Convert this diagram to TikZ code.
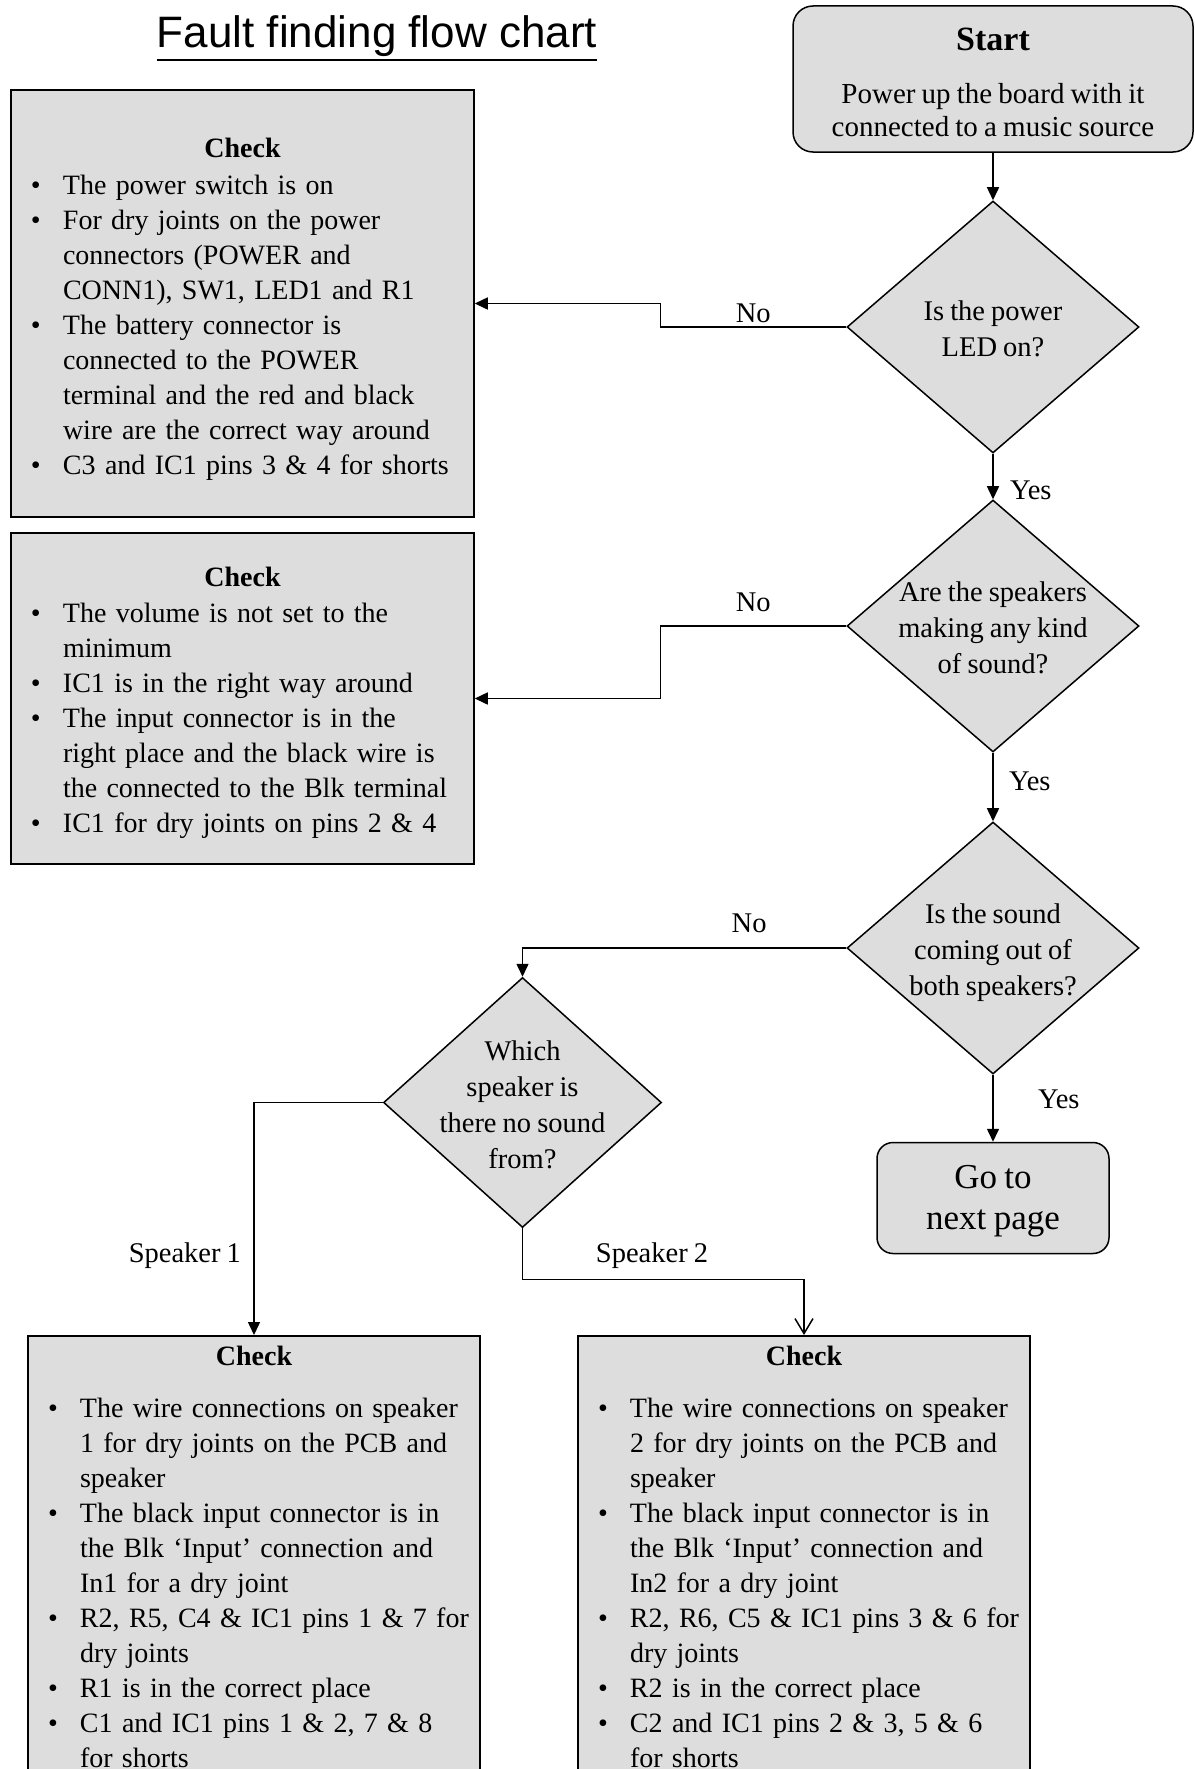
\documentclass[tikz,border=0pt]{standalone}
\usepackage{fontspec}
\setmainfont{Liberation Serif}[WordSpace=0.85]
\newfontfamily\titlefont{Liberation Sans}
\usetikzlibrary{shapes.geometric,arrows.meta,positioning}

\definecolor{boxgrey}{RGB}{221,221,221}
\newcommand{\bodyfont}{\fontsize{28}{35}\selectfont}
\newcommand{\qfont}{\fontsize{28.5}{36}\selectfont}
% question text inside a diamond, kept from growing the shape
\newcommand{\qtext}[1]{\smash{\makebox[0pt]{\raisebox{-11pt}{\begin{tabular}{@{}c@{}}#1\end{tabular}}}}}
\newcommand{\checkhead}[1][0pt]{{\centering\bfseries\rule{0pt}{#1}Check\par}}
\newcommand{\bitem}{\par\noindent\hangindent=44pt\hangafter=1\makebox[44pt][l]{\hspace{12pt}\textbullet}}

\begin{document}
\begin{tikzpicture}[x=1pt,y=-1pt,node distance=300pt,on grid,auto,
    decision/.style={diamond,draw,fill=boxgrey,line width=1.5pt,inner sep=0pt,
      minimum width=292pt,minimum height=252pt,font=\qfont},
    terminal/.style={rectangle,draw,fill=boxgrey,line width=1.5pt,
      rounded corners=20pt,align=center,font=\bodyfont},
    checkbox/.style={rectangle,draw,fill=boxgrey,line width=1.5pt,
      inner xsep=8pt,align=left,font=\bodyfont},
    lbl/.style={font=\qfont},
    arr/.style={-{Triangle[length=13pt,width=12pt]},line width=1.5pt}]
    \useasboundingbox (0,0) rectangle (1194,1769);
    \clip (0,0) rectangle (1194,1769);

    % heading
    \node[font=\titlefont\fontsize{44}{50}\selectfont,inner sep=0pt,anchor=base]
        (title) at (377,48) {Fault finding flow chart};
    \draw[line width=2.5pt] ([yshift=-12pt]title.base west) -- ([yshift=-12pt]title.base east);

    % main column of questions
    \node[terminal,minimum width=400pt,minimum height=146pt,font=\fontsize{29}{32.7}\selectfont]
        (start) at (993,79)
        {\rule{0pt}{29pt}{\fontsize{34}{40}\selectfont\bfseries Start}\\[20pt]
         Power up the board with it\\connected to a music source};
    \node[decision] (led)   [below=248pt of start] {\qtext{Is the power\\LED on?}};
    \node[decision] (any)   [below=299pt of led]   {\qtext{Are the speakers\\making any kind\\of sound?}};
    \node[decision] (both)  [below=322pt of any]   {\qtext{Is the sound\\coming out of\\both speakers?}};
    \node[terminal,minimum width=232pt,minimum height=111pt,rounded corners=16pt,
        font=\fontsize{35}{41}\selectfont] (next) [below=250pt of both]
        {\rule{0pt}{30pt}Go to\\next page};
    \node[decision,minimum width=278pt,minimum height=250pt] (which) at (522.5,1102.5)
        {\qtext{Which\\speaker is\\there no sound\\from?}};

    % things to check
    \node[checkbox,text width=447pt,minimum height=427pt] (fixpower) at (242.5,303.5) {\checkhead[30.5pt]
        \vspace{2.5pt}
        \bitem The power switch is on
        \bitem For dry joints on the power\newline connectors (POWER and\newline CONN1), SW1, LED1 and R1
        \bitem The battery connector is\newline connected to the POWER\newline terminal and the red and black\newline wire are the correct way around
        \bitem C3 and IC1 pins 3 \& 4 for shorts\par};
    \node[checkbox,text width=447pt,minimum height=331pt] (fixsound) at (242.5,698.5) {\checkhead[29pt]
        \vspace{1pt}
        \bitem The volume is not set to the\newline minimum
        \bitem IC1 is in the right way around
        \bitem The input connector is in the\newline right place and the black wire is\newline the connected to the Blk terminal
        \bitem IC1 for dry joints on pins 2 \& 4\par};
    \node[checkbox,text width=436pt,inner ysep=10pt,anchor=north] (fixspka) at (254,1335) {\checkhead
        \vspace{17pt}
        \bitem The wire connections on speaker\newline 1 for dry joints on the PCB and\newline speaker
        \bitem The black input connector is in\newline the Blk `Input' connection and\newline In1 for a dry joint
        \bitem R2, R5, C4 \& IC1 pins 1 \& 7 for\newline dry joints
        \bitem R1 is in the correct place
        \bitem C1 and IC1 pins 1 \& 2, 7 \& 8\newline for shorts\par\vspace{30pt}};
    \node[checkbox,text width=436pt,inner ysep=10pt,anchor=north] (fixspkb) at (804,1335) {\checkhead
        \vspace{17pt}
        \bitem The wire connections on speaker\newline 2 for dry joints on the PCB and\newline speaker
        \bitem The black input connector is in\newline the Blk `Input' connection and\newline In2 for a dry joint
        \bitem R2, R6, C5 \& IC1 pins 3 \& 6 for\newline dry joints
        \bitem R2 is in the correct place
        \bitem C2 and IC1 pins 2 \& 3, 5 \& 6\newline for shorts\par\vspace{30pt}};

    \path[arr]
    (start) edge (led)
    (led)   edge node[lbl,pos=0.8,xshift=13pt] (yes1) {Yes} (any)
    (any)   edge node[lbl,pos=0.42,xshift=12pt] (yes2) {Yes} (both)
    (both)  edge node[lbl,pos=0.37,xshift=41pt] (yes3) {Yes} (next);

    \draw[arr] (led.west) -- node[lbl,above] (no1) {No} ++(-186,0) |- (fixpower.east);
    \draw[arr] (any.west) -- node[lbl,above,yshift=10pt] (no2) {No} ++(-186,0) |- (fixsound.east);
    \draw[arr] (both.west) -| node[lbl,above,pos=0.15,yshift=11pt] (no3) {No} (which.north);
    \draw[arr] (which.west) -| node[lbl,left,pos=0.83,xshift=-9pt] (spk1) {Speaker 1} (fixspka.north);
    \draw[-{Straight Barb[length=15pt,width=18pt]},line width=1.5pt]
        (which.south) -- ++(0,51) -| node[lbl,above,pos=0.23,yshift=7pt] (spk2) {Speaker 2} (fixspkb.north);
\end{tikzpicture}
\end{document}
